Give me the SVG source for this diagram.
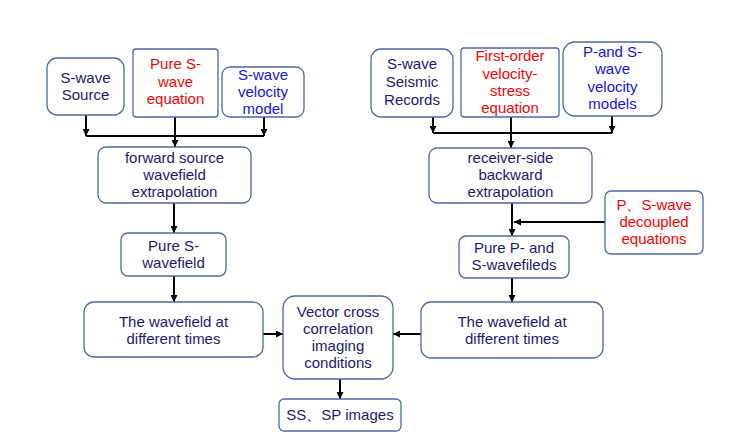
<svg xmlns="http://www.w3.org/2000/svg" width="750" height="445" viewBox="0 0 750 445">
<defs>
<marker id="ah" viewBox="0 0 10 10" refX="10" refY="5" markerWidth="3.5" markerHeight="3.5" orient="auto" markerUnits="strokeWidth">
<path d="M0,0 L10,5 L0,10 z" fill="#000"/>
</marker>
<style>
.box{fill:#fff;stroke:#4a6aa3;stroke-width:1.3}
text{font-family:"Liberation Sans",Arial,sans-serif;font-size:15px;text-anchor:middle}
.n{fill:#1a1a70}
.r{fill:#ff0000}
.b{fill:#1414e6}
.c{stroke:#000;stroke-width:2;fill:none}
.ca{stroke:#000;stroke-width:2;fill:none;marker-end:url(#ah)}
</style>
</defs>
<rect width="750" height="445" fill="#fff"/>
<g id="connectors">
<line class="ca" x1="86" y1="115" x2="86" y2="136"/>
<line class="ca" x1="264" y1="117" x2="264" y2="136"/>
<line class="c" x1="86" y1="136" x2="264" y2="136"/>
<line class="ca" x1="175" y1="117" x2="175" y2="147"/>
<line class="ca" x1="174" y1="203" x2="174" y2="233"/>
<line class="ca" x1="174" y1="276" x2="174" y2="302"/>
<line class="ca" x1="263" y1="334" x2="283" y2="334"/>
<line class="ca" x1="340" y1="379" x2="340" y2="399"/>
<line class="ca" x1="433" y1="117" x2="433" y2="133"/>
<line class="ca" x1="612" y1="116" x2="612" y2="133"/>
<line class="c" x1="433" y1="133" x2="612" y2="133"/>
<line class="ca" x1="511" y1="117" x2="511" y2="148"/>
<line class="ca" x1="512" y1="203" x2="512" y2="236"/>
<line class="ca" x1="605" y1="222" x2="514" y2="222"/>
<line class="ca" x1="512" y1="278" x2="512" y2="302"/>
<line class="ca" x1="421" y1="334" x2="393" y2="334"/>
</g>
<g id="s-wave-source">
<rect class="box" x="47" y="58" width="77" height="57" rx="10"/>
<text class="n" x="85.5" y="83">S-wave</text>
<text class="n" x="85.5" y="100">Source</text>
</g>
<g id="pure-s-wave-equation">
<rect class="box" x="133" y="49" width="85" height="68" rx="3"/>
<text class="r" x="175.5" y="69">Pure S-</text>
<text class="r" x="175.5" y="86.5">wave</text>
<text class="r" x="175.5" y="104">equation</text>
</g>
<g id="s-wave-velocity-model">
<rect class="box" x="222" y="67" width="82" height="50" rx="8"/>
<text class="b" x="263" y="80">S-wave</text>
<text class="b" x="263" y="97">velocity</text>
<text class="b" x="263" y="114">model</text>
</g>
<g id="forward-source">
<rect class="box" x="98" y="147" width="153" height="56" rx="8"/>
<text class="n" x="174.5" y="163">forward source</text>
<text class="n" x="174.5" y="180">wavefield</text>
<text class="n" x="174.5" y="197">extrapolation</text>
</g>
<g id="pure-s-wavefield">
<rect class="box" x="121" y="233" width="105" height="43" rx="7"/>
<text class="n" x="173.5" y="251">Pure S-</text>
<text class="n" x="173.5" y="268">wavefield</text>
</g>
<g id="wavefield-left">
<rect class="box" x="84" y="302" width="179" height="55" rx="10"/>
<text class="n" x="173.5" y="327">The wavefield at</text>
<text class="n" x="173.5" y="344">different times</text>
</g>
<g id="vector-cross">
<rect class="box" x="283" y="296" width="110" height="83" rx="12"/>
<text class="n" x="338" y="317">Vector cross</text>
<text class="n" x="338" y="334">correlation</text>
<text class="n" x="338" y="351">imaging</text>
<text class="n" x="338" y="368">conditions</text>
</g>
<g id="ss-sp-images">
<rect class="box" x="279" y="399" width="122" height="32" rx="5"/>
<text class="n" x="340" y="420">SS、SP images</text>
</g>
<g id="s-wave-seismic-records">
<rect class="box" x="371" y="49" width="82" height="68" rx="10"/>
<text class="n" x="412" y="69">S-wave</text>
<text class="n" x="412" y="87">Seismic</text>
<text class="n" x="412" y="105">Records</text>
</g>
<g id="first-order">
<rect class="box" x="461" y="48" width="98" height="69" rx="3"/>
<text class="r" x="510" y="61">First-order</text>
<text class="r" x="510" y="78.5">velocity-</text>
<text class="r" x="510" y="96">stress</text>
<text class="r" x="510" y="113">equation</text>
</g>
<g id="p-s-velocity-models">
<rect class="box" x="563" y="42" width="99" height="74" rx="12"/>
<text class="b" x="612.5" y="56.5">P-and S-</text>
<text class="b" x="612.5" y="74">wave</text>
<text class="b" x="612.5" y="91.5">velocity</text>
<text class="b" x="612.5" y="109">models</text>
</g>
<g id="receiver-side">
<rect class="box" x="429" y="148" width="163" height="55" rx="8"/>
<text class="n" x="510.5" y="163">receiver-side</text>
<text class="n" x="510.5" y="180">backward</text>
<text class="n" x="510.5" y="197">extrapolation</text>
</g>
<g id="decoupled-equations">
<rect class="box" x="605" y="191" width="98" height="63" rx="6"/>
<text class="r" x="654" y="210">P、S-wave</text>
<text class="r" x="654" y="227">decoupled</text>
<text class="r" x="654" y="244">equations</text>
</g>
<g id="pure-p-s-wavefields">
<rect class="box" x="459" y="236" width="110" height="42" rx="7"/>
<text class="n" x="514" y="253">Pure P- and</text>
<text class="n" x="514" y="270">S-wavefileds</text>
</g>
<g id="wavefield-right">
<rect class="box" x="421" y="302" width="182" height="56" rx="10"/>
<text class="n" x="512" y="327">The wavefield at</text>
<text class="n" x="512" y="344">different times</text>
</g>
</svg>
